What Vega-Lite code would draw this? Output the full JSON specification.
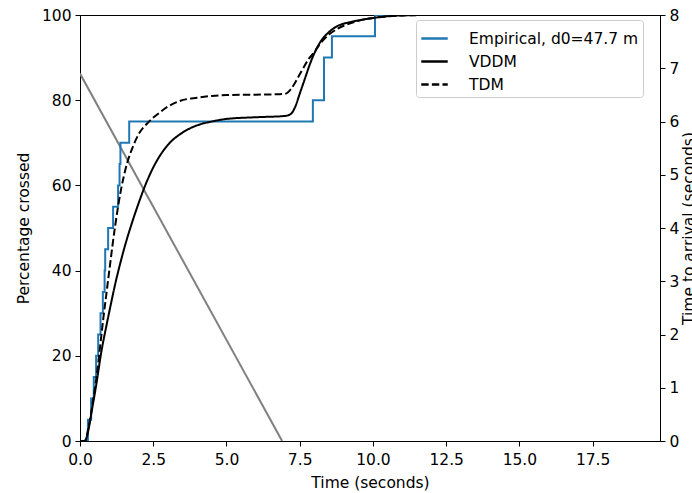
{
  "$schema": "https://vega.github.io/schema/vega-lite/v6.json",
  "width": 580,
  "height": 426,
  "autosize": {"type": "none"},
  "padding": {"left": 80, "top": 15, "right": 32, "bottom": 52},
  "background": "white",
  "config": {
    "font": "DejaVu Sans",
    "view": {"stroke": "black", "strokeWidth": 1},
    "axis": {
      "grid": false,
      "labelFont": "DejaVu Sans",
      "titleFont": "DejaVu Sans",
      "labelFontSize": 15.5,
      "titleFontSize": 15.5,
      "titleFontWeight": "normal",
      "labelColor": "black",
      "titleColor": "black",
      "tickColor": "black",
      "domainColor": "black",
      "tickSize": 5,
      "labelPadding": 4,
      "labelFlush": false
    },
    "legend": {
      "labelFont": "DejaVu Sans",
      "labelFontSize": 15.5,
      "labelColor": "black",
      "labelLimit": 400
    }
  },
  "datasets": {
    "curves": [
      {"t": 0, "p": 0, "series": "Empirical, d0=47.7 m"},
      {"t": 0.27, "p": 5, "series": "Empirical, d0=47.7 m"},
      {"t": 0.38, "p": 10, "series": "Empirical, d0=47.7 m"},
      {"t": 0.47, "p": 15, "series": "Empirical, d0=47.7 m"},
      {"t": 0.55, "p": 20, "series": "Empirical, d0=47.7 m"},
      {"t": 0.62, "p": 25, "series": "Empirical, d0=47.7 m"},
      {"t": 0.7, "p": 30, "series": "Empirical, d0=47.7 m"},
      {"t": 0.78, "p": 35, "series": "Empirical, d0=47.7 m"},
      {"t": 0.84, "p": 40, "series": "Empirical, d0=47.7 m"},
      {"t": 0.86, "p": 45, "series": "Empirical, d0=47.7 m"},
      {"t": 0.96, "p": 50, "series": "Empirical, d0=47.7 m"},
      {"t": 1.13, "p": 55, "series": "Empirical, d0=47.7 m"},
      {"t": 1.3, "p": 60, "series": "Empirical, d0=47.7 m"},
      {"t": 1.35, "p": 65, "series": "Empirical, d0=47.7 m"},
      {"t": 1.38, "p": 70, "series": "Empirical, d0=47.7 m"},
      {"t": 1.68, "p": 75, "series": "Empirical, d0=47.7 m"},
      {"t": 7.95, "p": 80, "series": "Empirical, d0=47.7 m"},
      {"t": 8.33, "p": 90, "series": "Empirical, d0=47.7 m"},
      {"t": 8.6, "p": 95, "series": "Empirical, d0=47.7 m"},
      {"t": 10.07, "p": 100, "series": "Empirical, d0=47.7 m"},
      {"t": 19.8, "p": 100, "series": "Empirical, d0=47.7 m"},

      {"t": 0, "p": 0, "series": "VDDM"},
      {"t": 0.16, "p": 0, "series": "VDDM"},
      {"t": 0.3, "p": 3, "series": "VDDM"},
      {"t": 0.4, "p": 7, "series": "VDDM"},
      {"t": 0.56, "p": 13.4, "series": "VDDM"},
      {"t": 0.73, "p": 21, "series": "VDDM"},
      {"t": 0.9, "p": 27, "series": "VDDM"},
      {"t": 1.05, "p": 32, "series": "VDDM"},
      {"t": 1.2, "p": 36.8, "series": "VDDM"},
      {"t": 1.37, "p": 41.6, "series": "VDDM"},
      {"t": 1.55, "p": 46.2, "series": "VDDM"},
      {"t": 1.75, "p": 50.7, "series": "VDDM"},
      {"t": 2.0, "p": 55.8, "series": "VDDM"},
      {"t": 2.25, "p": 60.4, "series": "VDDM"},
      {"t": 2.5, "p": 64.2, "series": "VDDM"},
      {"t": 2.75, "p": 67.2, "series": "VDDM"},
      {"t": 3.0, "p": 69.5, "series": "VDDM"},
      {"t": 3.5, "p": 72.4, "series": "VDDM"},
      {"t": 4.0, "p": 74.1, "series": "VDDM"},
      {"t": 4.5, "p": 75.0, "series": "VDDM"},
      {"t": 5.0, "p": 75.6, "series": "VDDM"},
      {"t": 6.0, "p": 76.0, "series": "VDDM"},
      {"t": 7.0, "p": 76.3, "series": "VDDM"},
      {"t": 7.2, "p": 76.8, "series": "VDDM"},
      {"t": 7.35, "p": 78.5, "series": "VDDM"},
      {"t": 7.5, "p": 81.5, "series": "VDDM"},
      {"t": 7.7, "p": 85.5, "series": "VDDM"},
      {"t": 7.85, "p": 88.5, "series": "VDDM"},
      {"t": 8.0, "p": 91, "series": "VDDM"},
      {"t": 8.19, "p": 93.5, "series": "VDDM"},
      {"t": 8.5, "p": 96, "series": "VDDM"},
      {"t": 8.76, "p": 97.3, "series": "VDDM"},
      {"t": 9.2, "p": 98.3, "series": "VDDM"},
      {"t": 9.56, "p": 98.8, "series": "VDDM"},
      {"t": 10.0, "p": 99.3, "series": "VDDM"},
      {"t": 10.35, "p": 99.6, "series": "VDDM"},
      {"t": 11.0, "p": 99.9, "series": "VDDM"},
      {"t": 12.0, "p": 100, "series": "VDDM"},
      {"t": 19.8, "p": 100, "series": "VDDM"},

      {"t": 0, "p": 0, "series": "TDM"},
      {"t": 0.16, "p": 0, "series": "TDM"},
      {"t": 0.3, "p": 3.5, "series": "TDM"},
      {"t": 0.4, "p": 7.5, "series": "TDM"},
      {"t": 0.5, "p": 12, "series": "TDM"},
      {"t": 0.6, "p": 17, "series": "TDM"},
      {"t": 0.7, "p": 23, "series": "TDM"},
      {"t": 0.8, "p": 29, "series": "TDM"},
      {"t": 0.9, "p": 34.5, "series": "TDM"},
      {"t": 1.0, "p": 40, "series": "TDM"},
      {"t": 1.2, "p": 50.5, "series": "TDM"},
      {"t": 1.4, "p": 59, "series": "TDM"},
      {"t": 1.6, "p": 65, "series": "TDM"},
      {"t": 1.8, "p": 69, "series": "TDM"},
      {"t": 2.0, "p": 72, "series": "TDM"},
      {"t": 2.3, "p": 74.6, "series": "TDM"},
      {"t": 2.7, "p": 77, "series": "TDM"},
      {"t": 3.0, "p": 78.5, "series": "TDM"},
      {"t": 3.4, "p": 79.8, "series": "TDM"},
      {"t": 4.0, "p": 80.6, "series": "TDM"},
      {"t": 4.5, "p": 81, "series": "TDM"},
      {"t": 5.0, "p": 81.2, "series": "TDM"},
      {"t": 6.0, "p": 81.3, "series": "TDM"},
      {"t": 6.8, "p": 81.4, "series": "TDM"},
      {"t": 7.05, "p": 81.6, "series": "TDM"},
      {"t": 7.2, "p": 82.6, "series": "TDM"},
      {"t": 7.4, "p": 84.8, "series": "TDM"},
      {"t": 7.6, "p": 87.3, "series": "TDM"},
      {"t": 7.8, "p": 89.6, "series": "TDM"},
      {"t": 8.0, "p": 91.3, "series": "TDM"},
      {"t": 8.2, "p": 93.3, "series": "TDM"},
      {"t": 8.5, "p": 95.4, "series": "TDM"},
      {"t": 8.8, "p": 96.8, "series": "TDM"},
      {"t": 9.2, "p": 98, "series": "TDM"},
      {"t": 9.6, "p": 98.8, "series": "TDM"},
      {"t": 10.0, "p": 99.3, "series": "TDM"},
      {"t": 10.5, "p": 99.7, "series": "TDM"},
      {"t": 11.0, "p": 99.9, "series": "TDM"},
      {"t": 12.0, "p": 100, "series": "TDM"},
      {"t": 19.8, "p": 100, "series": "TDM"}
    ],
    "tta": [
      {"t": 0, "tta": 6.9},
      {"t": 6.9, "tta": 0}
    ]
  },
  "layer": [
    {
      "layer": [
        {
          "data": {"name": "tta"},
          "mark": {"type": "line", "color": "#808080", "strokeWidth": 2, "clip": true},
          "encoding": {
            "x": {"field": "t", "type": "quantitative", "scale": {"domain": [0, 19.8], "nice": false}},
            "y": {
              "field": "tta", "type": "quantitative",
              "scale": {"domain": [0, 8], "nice": false},
              "axis": {"orient": "right", "values": [0, 1, 2, 3, 4, 5, 6, 7, 8], "title": "Time to arrival (seconds)", "titleAngle": 270, "titleBaseline": "top", "titlePadding": 3}
            }
          }
        }
      ]
    },
    {
      "layer": [
        {
          "data": {"name": "curves"},
          "transform": [{"filter": "datum.series === 'Empirical, d0=47.7 m'"}],
          "mark": {"type": "line", "strokeWidth": 2, "interpolate": "step-after", "clip": true},
          "encoding": {
            "x": {
              "field": "t", "type": "quantitative",
              "scale": {"domain": [0, 19.8], "nice": false},
              "axis": {"values": [0, 2.5, 5, 7.5, 10, 12.5, 15, 17.5], "format": ".1f", "title": "Time (seconds)", "labelPadding": 6, "titlePadding": 8}
            },
            "y": {
              "field": "p", "type": "quantitative",
              "scale": {"domain": [0, 100], "nice": false},
              "axis": {"values": [0, 20, 40, 60, 80, 100], "title": "Percentage crossed", "titlePadding": 10}
            },
            "color": {
              "field": "series", "type": "nominal",
              "scale": {"domain": ["Empirical, d0=47.7 m", "VDDM", "TDM"], "range": ["#1f77b4", "#000000", "#000000"]},
              "legend": {
                "title": null, "orient": "none", "legendX": 336, "legendY": 5,
                "symbolType": "stroke", "symbolSize": 700, "symbolStrokeWidth": 2.5,
                "fillColor": "white", "strokeColor": "#cccccc", "cornerRadius": 3, "padding": 4,
                "rowPadding": -2, "labelOffset": 20
              }
            },
            "strokeDash": {
              "field": "series", "type": "nominal",
              "scale": {"domain": ["Empirical, d0=47.7 m", "VDDM", "TDM"], "range": [[1, 0], [1, 0], [7.4, 3.2]]},
              "legend": {
                "title": null, "orient": "none", "legendX": 336, "legendY": 5,
                "symbolType": "stroke", "symbolSize": 700, "symbolStrokeWidth": 2.5,
                "fillColor": "white", "strokeColor": "#cccccc", "cornerRadius": 3, "padding": 4,
                "rowPadding": -2, "labelOffset": 20
              }
            }
          }
        },
        {
          "data": {"name": "curves"},
          "transform": [{"filter": "datum.series !== 'Empirical, d0=47.7 m'"}],
          "mark": {"type": "line", "strokeWidth": 2, "interpolate": "monotone", "clip": true},
          "encoding": {
            "x": {"field": "t", "type": "quantitative", "scale": {"domain": [0, 19.8], "nice": false}},
            "y": {"field": "p", "type": "quantitative", "scale": {"domain": [0, 100], "nice": false}},
            "color": {"field": "series", "type": "nominal"},
            "strokeDash": {"field": "series", "type": "nominal"}
          }
        }
      ]
    }
  ],
  "resolve": {"scale": {"y": "independent"}}
}
